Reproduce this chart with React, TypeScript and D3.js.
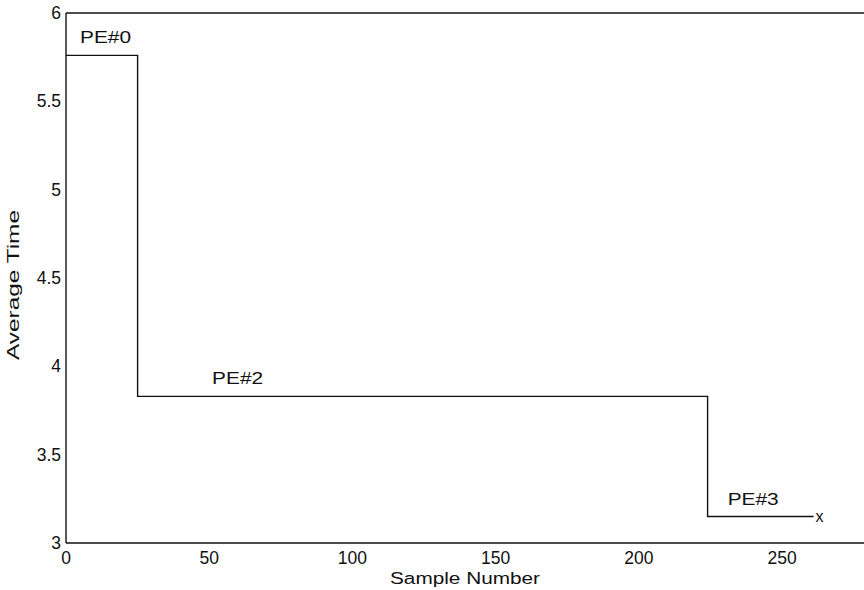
import React from 'react';
import * as d3 from 'd3';

// step levels of the average time, one per processing element
const segStarts = [0, 25, 224];
const segEnds = [25, 224, 261];
const segValues = [5.76, 3.83, 3.15];
const segLabels = ['PE#0', 'PE#2', 'PE#3'];
const labelX = [4.9, 51, 231];

const xTicks = [0, 50, 100, 150, 200, 250];
const yTicks = [3, 3.5, 4, 4.5, 5, 5.5, 6];

const W = 864;
const H = 590;
const margin = { top: 13, right: -4, bottom: 47, left: 66 };

export default function App() {
  const x = d3.scaleLinear().domain([0, 280]).range([margin.left, W - margin.right]);
  const y = d3.scaleLinear().domain([3, 6]).range([H - margin.bottom, margin.top]);

  const pts: [number, number][] = [];
  segStarts.forEach((s, i) => {
    pts.push([s, segValues[i]]);
    pts.push([segEnds[i], segValues[i]]);
  });
  const line = d3.line<[number, number]>()
    .x(d => x(d[0]))
    .y(d => y(d[1]));

  const font = '"Liberation Sans", Arial, sans-serif';
  const last = segStarts.length - 1;

  return (
    <svg width={W} height={H} style={{ position: 'absolute', left: 0, top: 0, background: '#fff' }}
      fontFamily={font}>
      {/* frame */}
      <line x1={x(0)} x2={W} y1={y(6)} y2={y(6)} stroke="#111" strokeWidth={1.4} />
      <line x1={x(0)} x2={W} y1={y(3)} y2={y(3)} stroke="#111" strokeWidth={1.4} />
      <line x1={x(0)} x2={x(0)} y1={y(6)} y2={y(3)} stroke="#111" strokeWidth={1.4} />

      {yTicks.map(t => (
        <text key={t} x={x(0) - 5} y={y(t)} dy="0.35em" textAnchor="end" fontSize={17.5} fill="#111">
          {d3.format('~g')(t)}
        </text>
      ))}
      {xTicks.map(t => (
        <text key={t} x={x(t)} y={y(3) + 21} textAnchor="middle" fontSize={17.5} fill="#111">
          {t}
        </text>
      ))}

      <path d={line(pts) || ''} fill="none" stroke="#111" strokeWidth={1.4} />

      {segLabels.map((l, i) => (
        <text key={l} x={x(labelX[i])} y={y(segValues[i]) - 12} fontSize={17}
          textLength={51} lengthAdjust="spacingAndGlyphs" fill="#111">{l}</text>
      ))}
      <text x={x(segEnds[last]) + 2} y={y(segValues[last]) + 5} fontSize={16} fill="#111">x</text>

      <text x={390} y={584} fontSize={16} textLength={150} lengthAdjust="spacingAndGlyphs"
        fill="#111">Sample Number</text>
      <text transform={`translate(19,360) rotate(-90)`} fontSize={17} textLength={150}
        lengthAdjust="spacingAndGlyphs" fill="#111">Average Time</text>
    </svg>
  );
}
